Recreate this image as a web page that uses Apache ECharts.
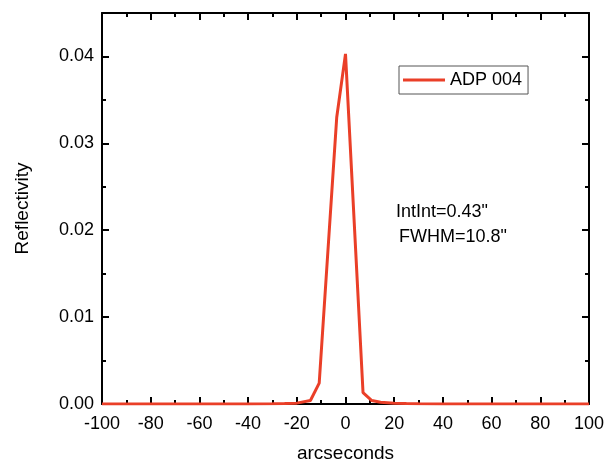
<!DOCTYPE html>
<html>
<head>
<meta charset="utf-8">
<script src="https://cdn.jsdelivr.net/npm/echarts@6/dist/echarts.min.js"></script>
<style>
html,body{margin:0;padding:0;background:#fff;}
#chart{width:605px;height:461px;}
</style>
</head>
<body>
<div id="chart"></div>
<script>
// Data
var seriesName = 'ADP 004';
var arcseconds = [-100, -90, -80, -70, -60, -50, -40, -30, -25, -20, -14.4, -10.8, -3.6, 0, 7.2, 10.8, 14.4, 20, 25, 30, 40, 50, 60, 70, 80, 90, 100];
var reflectivity = [0, 0, 0, 0, 0, 0, 0.00001, 0.00003, 0.00005, 0.0001, 0.0004, 0.0024, 0.0330, 0.0403, 0.0013, 0.0004, 0.0002, 0.0001, 0.00005, 0.00003, 0.00001, 0, 0, 0, 0, 0, 0];
var yTicks = [0.00, 0.01, 0.02, 0.03, 0.04];
var xTicks = [-100, -80, -60, -40, -20, 0, 20, 40, 60, 80, 100];
var notes = ['IntInt=0.43"', 'FWHM=10.8"'];

var FONT = '"Liberation Sans", Arial, sans-serif';
var RED = '#ea3f28';

var points = arcseconds.map(function (x, i) { return [x, reflectivity[i]]; });

var axisCommon = {
  axisLine: { show: true, onZero: false, lineStyle: { color: '#000', width: 2 } },
  axisTick: { show: true, inside: true, length: 7, lineStyle: { color: '#000', width: 2 } },
  minorTick: { show: true, splitNumber: 2, length: 4, lineStyle: { color: '#000', width: 2 } },
  splitLine: { show: false }
};

var chart = echarts.init(document.getElementById('chart'), null, { renderer: 'canvas' });
chart.setOption({
  animation: false,
  backgroundColor: '#fff',
  grid: { left: 102, right: 16, top: 13, bottom: 57, containLabel: false, outerBoundsMode: 'none' },
  legend: {
    data: [{ name: seriesName, icon: 'rect' }],
    left: 399, top: 66,
    padding: [5, 6, 5, 4],
    itemWidth: 42, itemHeight: 3,
    borderColor: '#555', borderWidth: 1,
    textStyle: { fontFamily: FONT, fontSize: 18, color: '#000' }
  },
  xAxis: [
    Object.assign({}, axisCommon, {
      type: 'value', position: 'bottom', min: xTicks[0], max: xTicks[xTicks.length - 1], interval: 20,
      name: 'arcseconds', nameLocation: 'middle', nameGap: 40,
      nameTextStyle: { fontFamily: FONT, fontSize: 19, color: '#000' },
      axisLabel: { show: true, margin: 11, fontFamily: FONT, fontSize: 18, color: '#000' }
    }),
    Object.assign({}, axisCommon, {
      type: 'value', position: 'top', min: xTicks[0], max: xTicks[xTicks.length - 1], interval: 20,
      axisLabel: { show: false }
    })
  ],
  yAxis: [
    Object.assign({}, axisCommon, {
      type: 'value', position: 'left', min: 0, max: 0.045, interval: 0.01,
      name: 'Reflectivity', nameLocation: 'middle', nameGap: 70,
      nameTextStyle: { fontFamily: FONT, fontSize: 19, color: '#000' },
      axisLabel: {
        show: true, margin: 8, fontFamily: FONT, fontSize: 18, color: '#000',
        formatter: function (v) {
          for (var i = 0; i < yTicks.length; i++) {
            if (Math.abs(v - yTicks[i]) < 1e-9) return yTicks[i].toFixed(2);
          }
          return '';
        }
      }
    }),
    Object.assign({}, axisCommon, {
      type: 'value', position: 'right', min: 0, max: 0.045, interval: 0.01,
      axisLabel: { show: false }
    })
  ],
  series: [{
    name: seriesName,
    type: 'line',
    xAxisIndex: 0, yAxisIndex: 0,
    data: points,
    symbol: 'none',
    lineStyle: { color: RED, width: 3 },
    itemStyle: { color: RED },
    z: 1
  }],
  graphic: [
    { type: 'text', x: 396, y: 212, style: { text: notes[0], fill: '#000', font: '18px ' + FONT, verticalAlign: 'middle' } },
    { type: 'text', x: 399, y: 237, style: { text: notes[1], fill: '#000', font: '18px ' + FONT, verticalAlign: 'middle' } }
  ]
});
</script>
</body>
</html>
